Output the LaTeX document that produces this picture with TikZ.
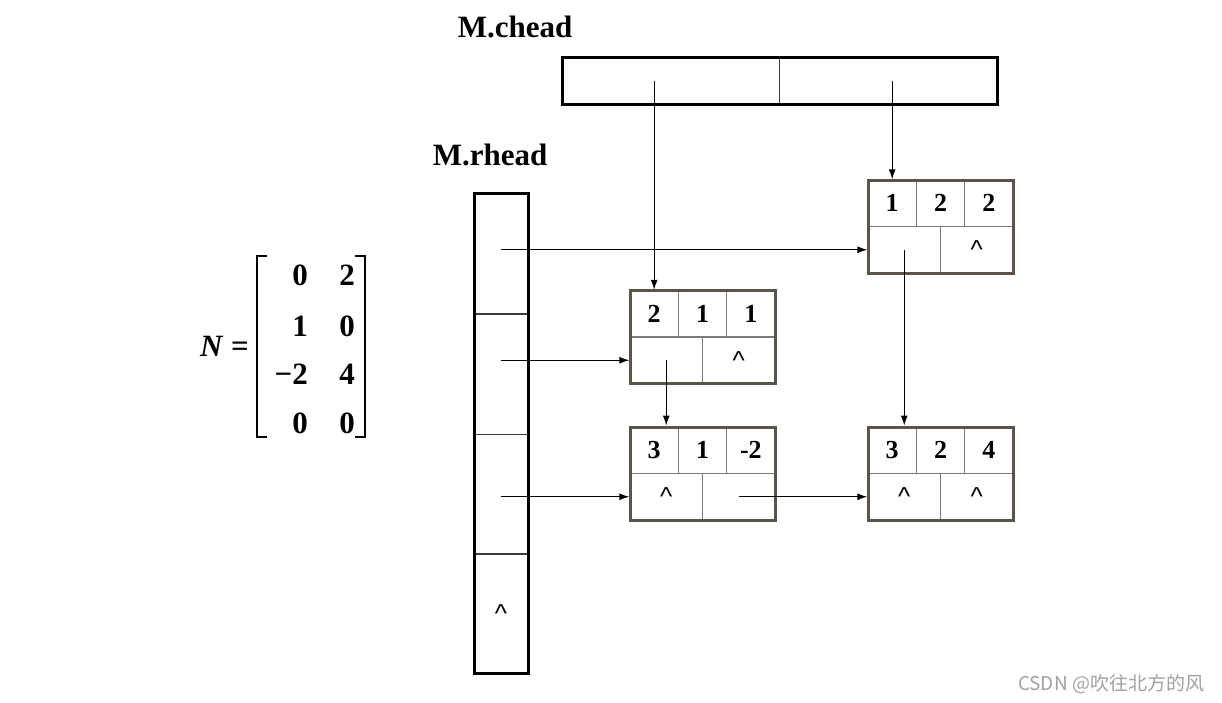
\documentclass[tikz,border=0pt]{standalone}
\usepackage{fontspec}
\setmainfont{Liberation Serif}
\newfontfamily\cjk{Noto Sans CJK SC}
\newfontfamily\caretfont{Liberation Sans}
\usetikzlibrary{arrows.meta}

\definecolor{olframe}{RGB}{90,84,77}
\definecolor{olgrid}{RGB}{125,121,116}
\definecolor{hdgrid}{RGB}{60,60,60}
\definecolor{wmark}{RGB}{160,160,160}

\tikzset{
  topcell/.style={draw=olgrid, line width=1.5pt, minimum width=48.33pt, minimum height=46.5pt,
    inner sep=0pt, font=\fontsize{26}{28}\selectfont\bfseries},
  botcell/.style={draw=olgrid, line width=1.5pt, minimum width=72.5pt, minimum height=46.5pt,
    inner sep=0pt, font=\caretfont\fontsize{26}{28}\selectfont},
  olbox/.style={draw=olframe, line width=3pt, minimum width=145pt, minimum height=93pt, inner sep=0pt},
  headcell/.style={draw=hdgrid, line width=1pt, inner sep=0pt, font=\caretfont\fontsize{26}{28}\selectfont},
  headbox/.style={draw, line width=3pt, inner sep=0pt},
  ptr/.style={-{Latex[length=10pt,width=7pt]}, line width=1pt},
  lbl/.style={font=\fontsize{31}{36}\selectfont\bfseries},
  entry/.style={anchor=east, inner sep=0pt, font=\fontsize{31}{34}\selectfont\bfseries}
}

% one element of the orthogonal list: name, centre x, centre y, i, j, e, down, right
\newcommand{\olnode}[8]{%
  \coordinate (#1c) at (#2,#3);
  \node[topcell] (#1i) at ([shift={(-48.33,-23.25)}]#1c) {#4};
  \node[topcell] (#1j) at ([shift={(0,-23.25)}]#1c) {#5};
  \node[topcell] (#1e) at ([shift={(48.33,-23.25)}]#1c) {#6};
  \node[botcell] (#1d) at ([shift={(-36.25,23.25)}]#1c) {#7};
  \node[botcell] (#1r) at ([shift={(36.25,23.25)}]#1c) {#8};
  \node[olbox] (#1) at (#1c) {};
}

\begin{document}
\begin{tikzpicture}[x=1pt, y=-1pt]
    \useasboundingbox (0,0) rectangle (1222,702);

    % the matrix
    \node[entry] (neq) at (249,346) {\textit{N} =};
    \node[entry] (m11) at (308,275) {0};
    \node[entry] (m12) at (355,275) {2};
    \node[entry] (m21) at (308,326) {1};
    \node[entry] (m22) at (355,326) {0};
    \node[entry] (m31) at (308,374) {−2};
    \node[entry] (m32) at (355,374) {4};
    \node[entry] (m41) at (308,423) {0};
    \node[entry] (m42) at (355,423) {0};
    \draw[line width=2.8pt] (267,256) -- (257,256) -- (257,437) -- (267,437);
    \draw[line width=2.8pt] (355,256) -- (365,256) -- (365,437) -- (355,437);

    % column heads
    \node[lbl] (clbl) at (515,27) {M.chead};
    \node[headcell, minimum width=217.5pt, minimum height=47pt] (ch1) at (670.75,80.5) {};
    \node[headcell, minimum width=217.5pt, minimum height=47pt] (ch2) at (888.25,80.5) {};
    \node[headbox, minimum width=435pt, minimum height=47pt] (chead) at (779.5,80.5) {};

    % row heads
    \node[lbl] (rlbl) at (490,155) {M.rhead};
    \node[headcell, minimum width=54pt, minimum height=120pt] (rh1) at (501,253.5) {};
    \node[headcell, minimum width=54pt, minimum height=120pt] (rh2) at (501,374) {};
    \node[headcell, minimum width=54pt, minimum height=120pt] (rh3) at (501,494) {};
    \node[headcell, minimum width=54pt, minimum height=120pt] (rh4) at (501,613.5) {\textasciicircum};
    \node[headbox, minimum width=54pt, minimum height=480pt] (rhead) at (501,433) {};

    % non-zero elements
    \olnode{e12}{940.5}{226.5}{1}{2}{2}{}{\textasciicircum}
    \olnode{e21}{702.5}{337}{2}{1}{1}{}{\textasciicircum}
    \olnode{e31}{702.5}{473.5}{3}{1}{-2}{\textasciicircum}{}
    \olnode{e32}{940.5}{473.5}{3}{2}{4}{\textasciicircum}{\textasciicircum}

    % pointers
    \draw[ptr] (e21i.north |- ch1.center) -- (e21i.north);
    \draw[ptr] (e12i.north |- ch2.center) -- (e12i.north);
    \draw[ptr] (rh1.center |- e12d.west) -- (e12d.west);
    \draw[ptr] (rh2.center |- e21d.west) -- (e21d.west);
    \draw[ptr] (rh3.center |- e31d.west) -- (e31d.west);
    \draw[ptr] (e21d.center) -- (e21d.center |- e31.north);
    \draw[ptr] (e12d.center) -- (e12d.center |- e32.north);
    \draw[ptr] (e31r.center) -- (e32d.west);

    \node[font=\cjk\fontsize{19}{22}\selectfont, text=wmark] (wm) at (1111,684) {CSDN @吹往北方的风};
\end{tikzpicture}
\end{document}
